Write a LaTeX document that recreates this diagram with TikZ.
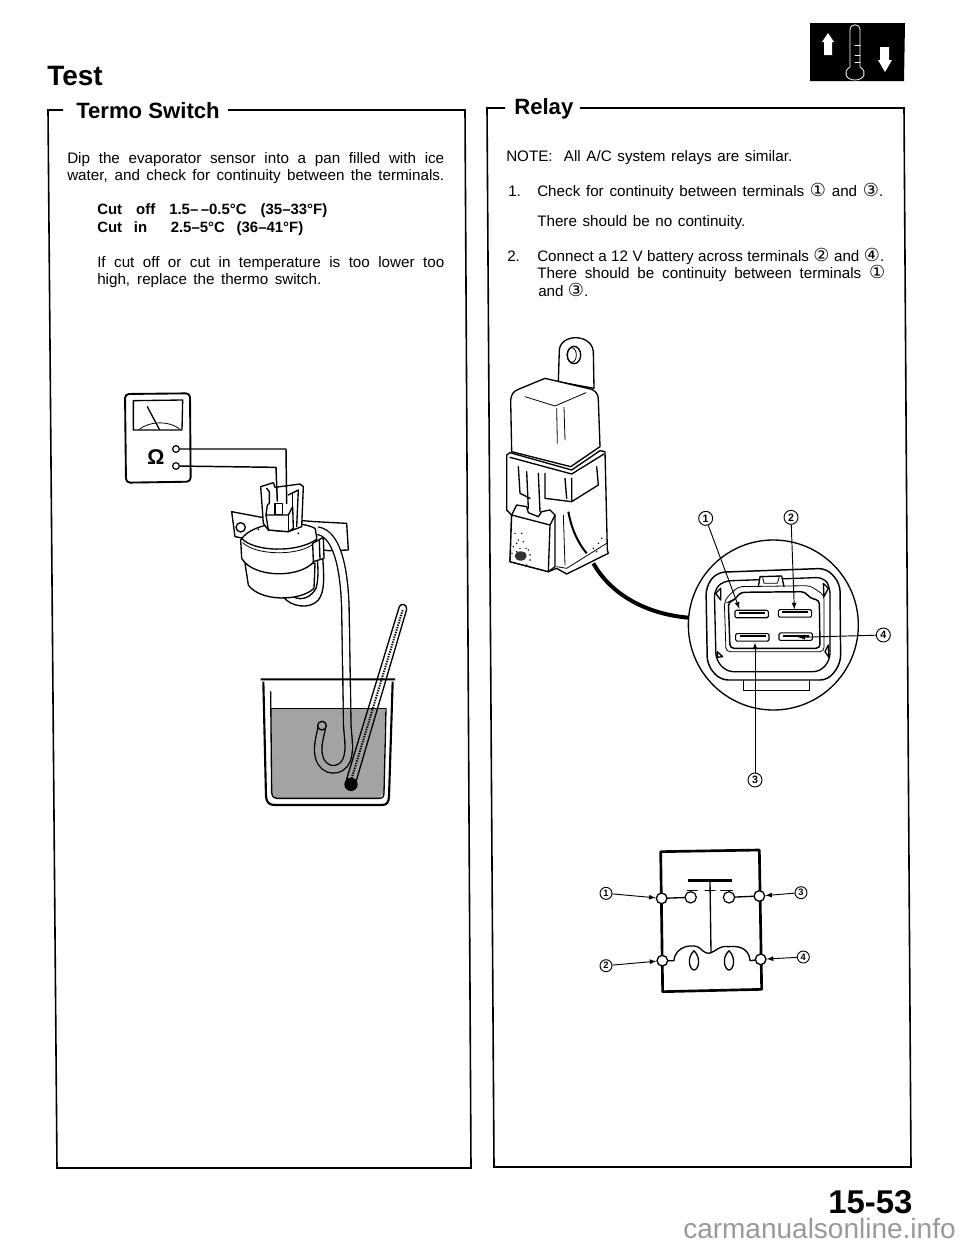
\documentclass[tikz,border=0pt]{standalone}
\usepackage{fontspec}
\setmainfont{Liberation Sans}
\newfontfamily\circlefont{DejaVu Sans}
\usetikzlibrary{shapes,arrows}
\tikzstyle{text_body} = [anchor=base west, inner sep=0pt, font=\fontsize{11.4}{13}\selectfont]
\tikzstyle{text_bold} = [anchor=base west, inner sep=0pt, font=\fontsize{11.2}{13}\selectfont\bfseries]
\tikzstyle{text_head} = [anchor=base west, inner sep=0pt, font=\fontsize{16.6}{20}\selectfont\bfseries]
\tikzstyle{num_large} = [circle, draw, line width=0.7pt, inner sep=0pt, minimum size=10.5pt, font=\fontsize{8}{8}\selectfont\bfseries]
\tikzstyle{num_small} = [circle, draw, line width=0.7pt, inner sep=0pt, minimum size=9pt, font=\fontsize{7}{7}\selectfont\bfseries]
\tikzstyle{edge_frame} = [line width=1.2pt]
\tikzstyle{edge_part} = [line width=1pt, line join=round, line cap=round]
\tikzstyle{edge_thin} = [line width=0.6pt, line join=round, line cap=round]
\tikzstyle{edge_wire} = [line width=1.1pt, line join=round]
\tikzstyle{edge_call} = [line width=0.7pt, -latex]
\tikzstyle{edge_cable} = [line width=1pt, double=white, double distance=4.6pt]
\tikzstyle{part_fill} = [edge_part, fill=white]
\tikzstyle{term_meter} = [circle, draw, fill=white, line width=0.9pt, inner sep=0pt, minimum size=5pt]
\tikzstyle{term_relay} = [circle, draw, fill=white, line width=1pt, inner sep=0pt, minimum size=8pt]
\tikzstyle{term_contact} = [circle, draw, fill=white, line width=0.9pt, inner sep=0pt, minimum size=8.5pt]
\newcommand{\fitline}[2]{\makebox[\dimexpr0.75pt*#1\relax][s]{#2}}
\newcommand{\cnum}[1]{{\circlefont\fontsize{13.5}{13}\selectfont #1}}
\begin{document}
\begin{tikzpicture}[x=0.75pt,y=-0.75pt]
	\useasboundingbox (0,0) rectangle (960,1242);
	% headings
	\node (test) at (47,85) [anchor=base west, inner sep=0pt, font=\fontsize{21}{24}\selectfont\bfseries] {Test};
	\node (termo) at (76,118) [text_head] {Termo Switch};
	\node (relay) at (514,114) [text_head] {Relay};
	\node (page) at (828,1213) [anchor=base west, inner sep=0pt, font=\fontsize{24.7}{26}\selectfont\bfseries] {15-53};
	\node (site) at (683,1238) [anchor=base west, inner sep=0pt, text=black!40, font=\fontsize{21}{22}\selectfont] {carmanualsonline.info};
	% frames
	\draw[edge_frame] (63,110) -- (48,110) -- (57,1168) -- (471,1168) -- (465,110) -- (228,110);
	\draw[edge_frame] (505,108) -- (487,108) -- (494,1167) -- (911,1167) -- (904,108) -- (580,108);
	% left text
	\node (l1) at (67,163) [text_body] {\fitline{377}{Dip the evaporator sensor into a pan filled with ice}};
	\node (l2) at (67,180) [text_body] {\fitline{377}{water, and check for continuity between the terminals.}};
	\node (l3) at (97,214) [text_bold] {\fitline{230}{Cut off 1.5–\,–0.5°C (35–33°F)}};
	\node (l4) at (97,232) [text_bold] {\fitline{206}{Cut in\ \ 2.5–5°C (36–41°F)}};
	\node (l5) at (97,267) [text_body] {\fitline{347}{If cut off or cut in temperature is too lower too}};
	\node (l6) at (97,284) [text_body] {\fitline{224}{high, replace the thermo switch.}};
	% right text
	\node (r1) at (506,161) [text_body] {\fitline{286}{NOTE:\ \ All A/C system relays are similar.}};
	\node (r2) at (508,196) [text_body] {1.};
	\node (r3) at (537,196) [text_body] {\fitline{346}{Check for continuity between terminals \cnum{①} and \cnum{③}.}};
	\node (r4) at (537,226) [text_body] {\fitline{208}{There should be no continuity.}};
	\node (r5) at (507,261) [text_body] {2.};
	\node (r6) at (537,261) [text_body] {\fitline{347}{Connect a 12 V battery across terminals \cnum{②} and \cnum{④}.}};
	\node (r7) at (537,278) [text_body] {\fitline{348}{There should be continuity between terminals \cnum{①}}};
	\node (r8) at (538,296) [text_body] {\fitline{50}{and \cnum{③}.}};
	% icon
	\fill (810,23) -- (905,23) -- (904,81) -- (810,81) -- cycle;
	\draw[white, edge_thin] (850,67) -- (850,30) .. controls (850,23) and (860,23) .. (860,30) -- (860,67) .. controls (868,72) and (864,80) .. (855,80) .. controls (846,80) and (842,72) .. (850,67);
	\draw[white, edge_thin] (855,45) -- (860,45) (855,55) -- (860,55) (855,62) -- (860,62);
	\fill[white] (828,33) -- (834,42) -- (832,42) -- (832,55) -- (824,55) -- (824,42) -- (822,42) -- cycle;
	\fill[white] (885,72) -- (892,60) -- (889,60) -- (889,47) -- (880,47) -- (880,60) -- (878,60) -- cycle;
	% meter and sensor
	\begin{scope}[shift={(120,380)},x=0.25pt,y=-0.25pt]
		\draw[line width=1.4pt, rounded corners=3pt] (15,42) -- (210,40) -- (212,305) -- (18,308) -- cycle;
		\draw[edge_part] (40,62) -- (188,60) -- (186,150) -- (40,150) -- cycle;
		\draw[edge_part] (82,80) -- (118,148);
		\draw[edge_thin] (58,148) .. controls (90,122) and (150,122) .. (180,148);
		\node (ohm) at (108,230) [inner sep=0pt, font=\fontsize{16}{16}\selectfont\bfseries] {Ω};
		\node (m1) at (168,207) [term_meter] {};
		\node (m2) at (168,258) [term_meter] {};
		% bracket and lower wires
		\draw[part_fill] (335,395) -- (425,412) -- (585,425) -- (680,430) -- (685,510) -- (625,512) -- (400,480) -- (345,470) -- cycle;
		\draw[edge_part] (362,442) circle (14);
		\draw[edge_part] (490,650) .. controls (510,680) and (570,690) .. (595,660) .. controls (615,635) and (612,590) .. (608,530);
		\draw[edge_part] (520,650) .. controls (545,665) and (575,650) .. (588,625) .. controls (595,600) and (595,570) .. (592,540);
		\draw[part_fill] (375,550) -- (385,615) .. controls (420,665) and (540,665) .. (582,625) -- (585,550) -- cycle;
		% switch body
		\draw[part_fill] (362,480) -- (365,535) .. controls (400,595) and (540,595) .. (582,545) -- (590,470) -- (585,445) .. controls (540,420) and (400,420) .. (362,480) -- cycle;
		\draw[edge_part] (365,475) .. controls (400,515) and (530,520) .. (590,478);
		\draw[edge_thin] (368,488) .. controls (410,528) and (540,528) .. (582,490);
		\draw[part_fill] (578,490) -- (610,472) -- (612,535) -- (580,545) -- cycle;
		\draw[edge_part] (598,482) -- (600,538);
		% cable into the beaker
		\draw[edge_cable] (592,452) .. controls (650,460) and (672,560) .. (676,680) -- (682,1040) .. controls (686,1090) and (690,1110) .. (680,1140) .. controls (665,1178) and (610,1180) .. (597,1130) .. controls (590,1100) and (600,1070) .. (606,1040);
		\draw[edge_part, fill=white] (606,1037) circle (13);
		% connector
		\draw[part_fill] (422,320) -- (460,308) -- (465,322) -- (540,312) -- (550,320) -- (545,440) -- (505,455) -- (445,450) -- (430,430) -- cycle;
		\draw[edge_part] (440,325) -- (448,335) -- (448,370) -- (442,375) -- (438,405);
		\draw[edge_part] (505,345) -- (535,330) -- (530,440);
		\draw[edge_part] (518,340) -- (518,380);
		\draw[part_fill] (438,405) -- (505,405) -- (518,380) -- (520,445) -- (505,455) -- (445,450) -- cycle;
		\draw[edge_part] (505,405) -- (505,455);
		\draw[part_fill] (465,370) -- (488,370) -- (488,403) -- (465,403) -- cycle;
		\coordinate (s1) at (500,372);
		\coordinate (s2) at (472,365);
		\draw[edge_wire] (m1) -- (498,207) -- (s1);
		\draw[edge_wire] (m2) -- (468,262) -- (s2);
		\fill (415,448) circle (3) (535,460) circle (3);
		% thermometer
		\draw[part_fill] (838,680) .. controls (842,668) and (862,672) .. (860,688) -- (708,1205) -- (680,1197) -- cycle;
		\draw[line width=1.5pt, dash pattern=on 1pt off 0.9pt] (848,690) -- (695,1195);
		% water, beaker
		\fill[black, fill opacity=0.36] (452,985) -- (795,985) -- (792,1238) -- (778,1255) -- (468,1255) -- (455,1238) -- cycle;
		\draw[edge_part] (452,985) -- (795,985);
		\fill (693,1213) circle (20);
		\draw[line width=1.6pt, line join=round] (422,898) -- (825,898) (430,905) -- (438,1250) .. controls (440,1268) and (448,1275) .. (465,1275) -- (785,1275) .. controls (800,1275) and (806,1268) .. (807,1250) -- (818,905);
		\draw[edge_part] (452,935) -- (455,1238) .. controls (457,1250) and (462,1255) .. (470,1255) -- (778,1255) .. controls (788,1255) and (792,1250) .. (792,1238) -- (798,985);
	\end{scope}
	% relay
	\begin{scope}[shift={(480,320)},x=0.25pt,y=-0.25pt]
		\draw[part_fill] (235,185) -- (238,90) .. controls (242,40) and (335,40) .. (340,95) -- (342,205) -- cycle;
		\draw[edge_part] (282,105) ellipse (20 and 26);
		\draw[edge_thin] (275,105) ellipse (14 and 22);
		\draw[line width=3pt] (340,730) .. controls (385,810) and (480,880) .. (625,893);
		% cover
		\draw[part_fill] (92,240) .. controls (95,220) and (100,215) .. (115,208) -- (195,175) -- (335,208) .. controls (350,215) and (355,225) .. (355,240) -- (360,380) -- (272,440) -- (95,395) -- cycle;
		\draw[edge_thin] (135,230) -- (225,258) -- (318,218) (230,265) -- (232,370) (252,262) -- (255,360);
		% base
		\draw[part_fill] (80,405) -- (90,398) -- (275,450) -- (360,392) -- (375,395) -- (382,690) -- (385,700) -- (260,762) -- (230,745) -- (205,755) -- (90,725) -- (95,585) -- (80,570) -- cycle;
		\draw[edge_part] (90,412) -- (275,462) -- (372,402);
		\draw[edge_part] (115,440) -- (120,520) -- (150,535) (195,460) -- (195,535) -- (275,545) -- (355,495) -- (350,440) (275,475) -- (275,545) (255,475) -- (260,535);
		\draw[edge_part] (140,455) -- (145,565) (175,460) -- (180,575);
		\draw[part_fill] (95,585) -- (110,555) -- (140,560) -- (145,578) -- (175,590) -- (185,575) -- (210,570) -- (225,585) -- (225,740) -- (205,755) -- (90,725) -- cycle;
		\draw[edge_part] (95,585) -- (210,615) -- (225,585) (210,615) -- (205,755);
		\draw[line width=1.5pt] (265,575) .. controls (275,630) and (295,670) .. (320,700);
		\draw[edge_thin] (230,740) -- (260,745) -- (380,670) (250,585) -- (255,735);
		\fill[black!80] (122,708) ellipse (18 and 14);
		\foreach \dx/\dy in {105/640,115/660,130/665,100/680,145/690,150/720,140/735,110/670,125/640,340/685,355/670,365/655,350/695,96/700,138/685,120/685,110/695,150/705,135/700}
			\fill (\dx,\dy) circle (2.5);
		% connector view
		\draw[fill=white, line width=1pt] (880,915) circle (255);
		\draw[edge_part] (790,1082) -- (790,1112) -- (988,1112) -- (988,1082);
		\draw[line width=1.1pt, rounded corners=6pt] (678,800) -- (710,757) -- (1040,745) -- (1080,790) -- (1082,1030) -- (1045,1080) -- (720,1080) -- (682,1035) -- cycle;
		\draw[edge_part, rounded corners=5pt] (703,810) -- (730,783) -- (1030,772) -- (1050,800) -- (1050,1020) -- (1020,1055) -- (740,1055) -- (708,1020) -- cycle;
		\draw[edge_part] (707,820) -- (722,805) -- (722,840) -- cycle (712,995) -- (728,1010) -- (712,1012) -- cycle (1030,790) -- (1045,805) -- (1032,830) -- cycle (1045,975) -- (1035,995) -- (1047,1012) -- cycle;
		\draw[edge_part, fill=white] (835,800) -- (840,770) -- (905,768) -- (912,800);
		\draw[edge_thin] (848,772) -- (852,790) -- (892,790) -- (898,770);
		\draw[line width=1.1pt, rounded corners=3pt] (745,845) -- (765,840) -- (780,817) -- (975,815) -- (990,835) -- (1018,840) -- (1020,985) -- (750,985) -- cycle;
		\draw[edge_thin, rounded corners=3pt] (733,845) -- (745,828) -- (775,800) -- (990,797) -- (1032,825) -- (1032,995) -- (738,995) -- cycle;
		\foreach \sx/\sy/\sname in {765/870/a,895/868/b,767/940/c,897/938/d} {
			\node (slot_\sname) at (\sx+50,\sy+12) [draw, rounded corners=1pt, line width=0.8pt, minimum width=25pt, minimum height=5.6pt, inner sep=0pt] {};
			\draw[line width=1.4pt] (\sx+12,\sy+9) -- (\sx+90,\sy+9);
		}
		\node (n1) at (677,595) [num_large] {1};
		\node (n2) at (933,592) [num_large] {2};
		\node (n4) at (1210,945) [num_large] {4};
		\node (n3) at (825,1380) [num_large] {3};
		\coordinate (t1) at (778,866);
		\coordinate (t2) at (943,868);
		\coordinate (t4) at (955,952);
		\coordinate (t3) at (825,968);
		\draw[edge_call] (n1) -- (t1);
		\draw[edge_call] (n2) -- (t2);
		\draw[edge_call] (n4) -- (t4);
		\draw[edge_call] (n3) -- (t3);
	\end{scope}
	% circuit symbol
	\begin{scope}[shift={(600,830)},x=0.25pt,y=-0.25pt]
		\draw[line width=2pt, line join=round] (182,65) -- (478,60) -- (485,478) -- (188,485) -- cycle;
		\node (c1) at (272,202) [term_contact] {};
		\node (c3) at (387,202) [term_contact] {};
		\node (b1) at (185,205) [term_relay] {};
		\node (b3) at (478,198) [term_relay] {};
		\node (b2) at (187,392) [term_relay] {};
		\node (b4) at (482,388) [term_relay] {};
		\draw[edge_part] (b1) -- (c1);
		\draw[edge_part] (b3) -- (c3);
		\draw[line width=2.4pt] (265,152) -- (395,152);
		\draw[edge_part] (262,182) -- (292,182) (315,182) -- (345,182) (362,182) -- (398,182);
		\draw[edge_part] (330,155) -- (333,368);
		\draw[edge_part] (b2) -- (222,392) .. controls (225,345) and (285,340) .. (300,355) .. controls (315,370) and (325,372) .. (333,368) .. controls (345,365) and (360,345) .. (385,350) .. controls (430,345) and (448,365) .. (450,392) -- (b4);
		\draw[edge_part] (282,362) .. controls (258,385) and (270,420) .. (282,420) .. controls (295,420) and (305,385) .. (282,362);
		\draw[edge_part] (387,362) .. controls (363,385) and (375,420) .. (387,420) .. controls (400,420) and (410,385) .. (387,362);
		\node (k1) at (18,190) [num_small] {1};
		\node (k2) at (18,407) [num_small] {2};
		\node (k3) at (603,188) [num_small] {3};
		\node (k4) at (610,381) [num_small] {4};
		\draw[edge_call] (k1) -- (b1);
		\draw[edge_call] (k2) -- (b2);
		\draw[edge_call] (k3) -- (b3);
		\draw[edge_call] (k4) -- (b4);
	\end{scope}
\end{tikzpicture}
\end{document}
